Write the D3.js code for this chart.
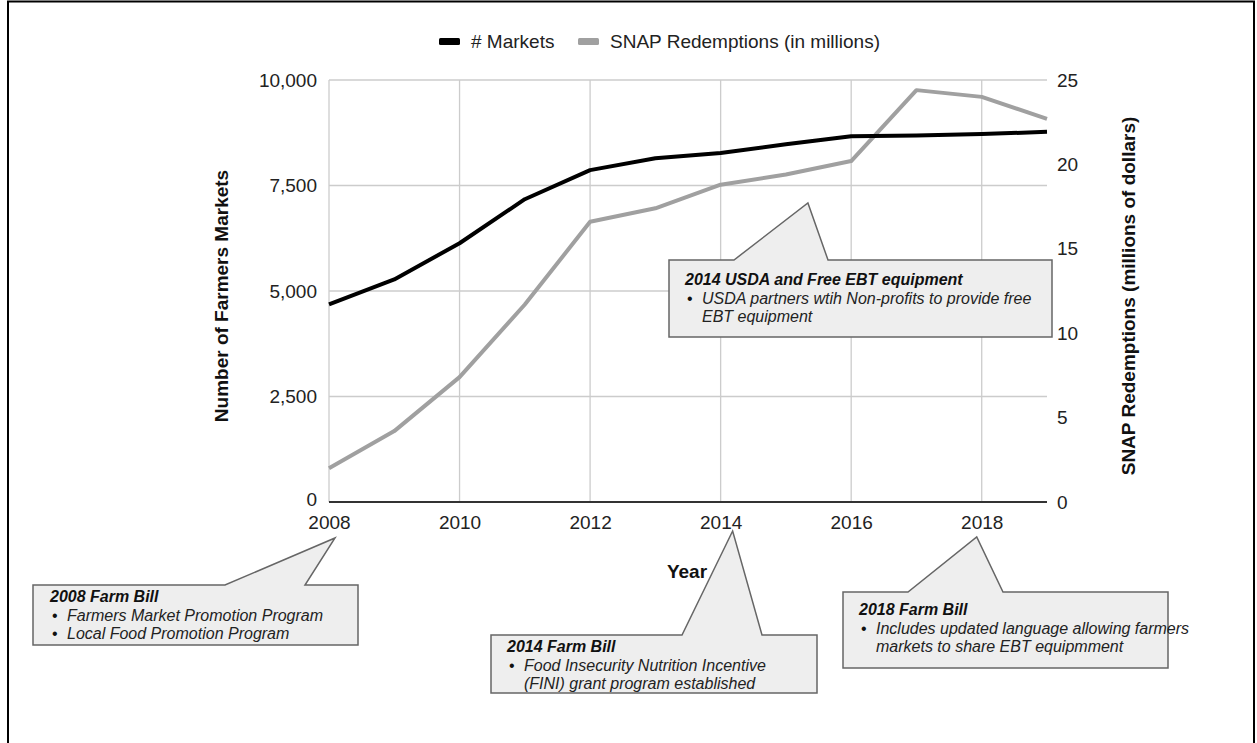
<!DOCTYPE html>
<html><head><meta charset="utf-8">
<script src="https://cdn.jsdelivr.net/npm/d3@7"></script>
<style>
html,body{margin:0;padding:0;background:#fff;}
svg{display:block;font-family:"Liberation Sans",Arial,sans-serif;}
</style></head>
<body><svg id="c" width="1257" height="743"></svg>
<script>
const years = [2008,2009,2010,2011,2012,2013,2014,2015,2016,2017,2018,2019];
const markets = [4685,5274,6132,7175,7864,8144,8268,8476,8669,8687,8720,8771];
const snap = [2.0,4.2,7.4,11.7,16.6,17.4,18.8,19.4,20.2,24.4,24.0,22.7];
const xTicks = [2008,2010,2012,2014,2016,2018];
const leftTicks = [0,2500,5000,7500,10000];
const rightTicks = [0,5,10,15,20,25];
const seriesNames = ["# Markets","SNAP Redemptions (in millions)"];
const seriesColors = ["#000000","#a0a0a0"];
const callouts = [
  {year:2008, title:"2008 Farm Bill", lines:[["•","Farmers Market Promotion Program"],["•","Local Food Promotion Program"]],
   box:[33,585,358,645], base:[225,305], tipDx:6, tipY:538, tx:50, ty:602},
  {year:2014, title:"2014 Farm Bill", lines:[["•","Food Insecurity Nutrition Incentive"],["","(FINI) grant program established"]],
   box:[491,635,817,693], base:[682,762], tipDx:12, tipY:531, tx:507, ty:652},
  {year:2018, title:"2018 Farm Bill", lines:[["•","Includes updated language allowing farmers"],["","markets to share EBT equipmment"]],
   box:[843,592,1168,668], base:[908,1003], tipDx:-5, tipY:537, tx:859, ty:615},
  {year:2015, title:"2014 USDA and Free EBT equipment", lines:[["•","USDA partners wtih Non-profits to provide free"],["","EBT equipment"]],
   box:[669,260,1052,337], base:[734,828], tipDx:22, tipY:203, tx:685, ty:285}
];

const svg = d3.select("#c");
const x = d3.scaleLinear().domain([2008,2019]).range([329,1047]);
const yL = d3.scaleLinear().domain([0,10000]).range([502,80]);
const yR = d3.scaleLinear().domain([0,25]).range([502,80]);

// frame
svg.append("rect").attr("x",8).attr("y",1.5).attr("width",1246).attr("height",780)
  .attr("fill","none").attr("stroke","#000").attr("stroke-width",2);

// gridlines
svg.append("g").selectAll("line").data(leftTicks.filter(d=>d>0)).join("line")
  .attr("x1",x(2008)).attr("x2",x(2019)).attr("y1",d=>yL(d)).attr("y2",d=>yL(d))
  .attr("stroke","#cccccc").attr("stroke-width",1.3);
svg.append("g").selectAll("line").data(xTicks).join("line")
  .attr("x1",d=>x(d)).attr("x2",d=>x(d)).attr("y1",yL(10000)).attr("y2",yL(0))
  .attr("stroke","#cccccc").attr("stroke-width",1.3);

// axes
const axL = svg.append("g").attr("transform",`translate(${x(2008)},0)`)
  .call(d3.axisLeft(yL).tickValues(leftTicks).tickFormat(d3.format(",")).tickSize(0).tickPadding(12));
const axR = svg.append("g").attr("transform",`translate(${x(2019)},0)`)
  .call(d3.axisRight(yR).tickValues(rightTicks).tickSize(0).tickPadding(10));
const axB = svg.append("g").attr("transform",`translate(0,${yL(0)})`)
  .call(d3.axisBottom(x).tickValues(xTicks).tickFormat(d3.format("d")).tickSize(0).tickPadding(14));
[axL,axR,axB].forEach(a=>{
  a.select(".domain").remove();
  a.selectAll("text").attr("font-size",19).attr("fill","#222").attr("font-family","Liberation Sans, Arial, sans-serif");
});
axL.selectAll(".tick").filter(d=>d===0).select("text").attr("dy","0.2em");
svg.append("line").attr("x1",x(2008)).attr("x2",x(2019)).attr("y1",yL(0)).attr("y2",yL(0))
  .attr("stroke","#333").attr("stroke-width",2);

// lines
const lineL = d3.line().x((d,i)=>x(years[i])).y(d=>yL(d));
const lineR = d3.line().x((d,i)=>x(years[i])).y(d=>yR(d));
svg.append("path").datum(snap).attr("d",lineR).attr("fill","none")
  .attr("stroke",seriesColors[1]).attr("stroke-width",4).attr("stroke-linejoin","round");
svg.append("path").datum(markets).attr("d",lineL).attr("fill","none")
  .attr("stroke",seriesColors[0]).attr("stroke-width",4).attr("stroke-linejoin","round");

// axis titles
svg.append("text").attr("transform","translate(228,296) rotate(-90)").attr("text-anchor","middle")
  .attr("font-size",19).attr("font-weight","bold").attr("fill","#111").text("Number of Farmers Markets");
svg.append("text").attr("transform","translate(1135,296) rotate(-90)").attr("text-anchor","middle")
  .attr("font-size",19).attr("font-weight","bold").attr("fill","#111").text("SNAP Redemptions (millions of dollars)");

// legend
const lg = svg.append("g");
const legX = [439,578];
seriesNames.forEach((n,i)=>{
  lg.append("rect").attr("x",legX[i]).attr("y",38).attr("width",21).attr("height",7).attr("rx",1.5).attr("fill",seriesColors[i]);
  lg.append("text").attr("x",legX[i]+32).attr("y",48).attr("font-size",19).attr("fill","#222").text(n);
});

// callouts
callouts.forEach(c=>{
  const [l,t,r,b] = c.box;
  const tip = x(c.year)+c.tipDx;
  const p = `M${l},${t}L${c.base[0]},${t}L${tip},${c.tipY}L${c.base[1]},${t}L${r},${t}L${r},${b}L${l},${b}Z`;
  svg.append("path").attr("d",p).attr("fill","#eeeeee").attr("stroke","#666").attr("stroke-width",1.5);
  svg.append("text").attr("x",c.tx).attr("y",c.ty).attr("font-size",16).attr("font-weight","bold")
    .attr("font-style","italic").attr("fill","#111").text(c.title);
  c.lines.forEach((ln,i)=>{
    const yy = c.ty+18.7*(i+1);
    if(ln[0]) svg.append("text").attr("x",c.tx+2).attr("y",yy).attr("font-size",16).attr("fill","#111").text(ln[0]);
    svg.append("text").attr("x",c.tx+17).attr("y",yy).attr("font-size",16).attr("font-style","italic").attr("fill","#222").text(ln[1]);
  });
});

// x title (on top)
svg.append("text").attr("x",687).attr("y",578).attr("text-anchor","middle")
  .attr("font-size",19).attr("font-weight","bold").attr("fill","#111").text("Year");
</script></body></html>
